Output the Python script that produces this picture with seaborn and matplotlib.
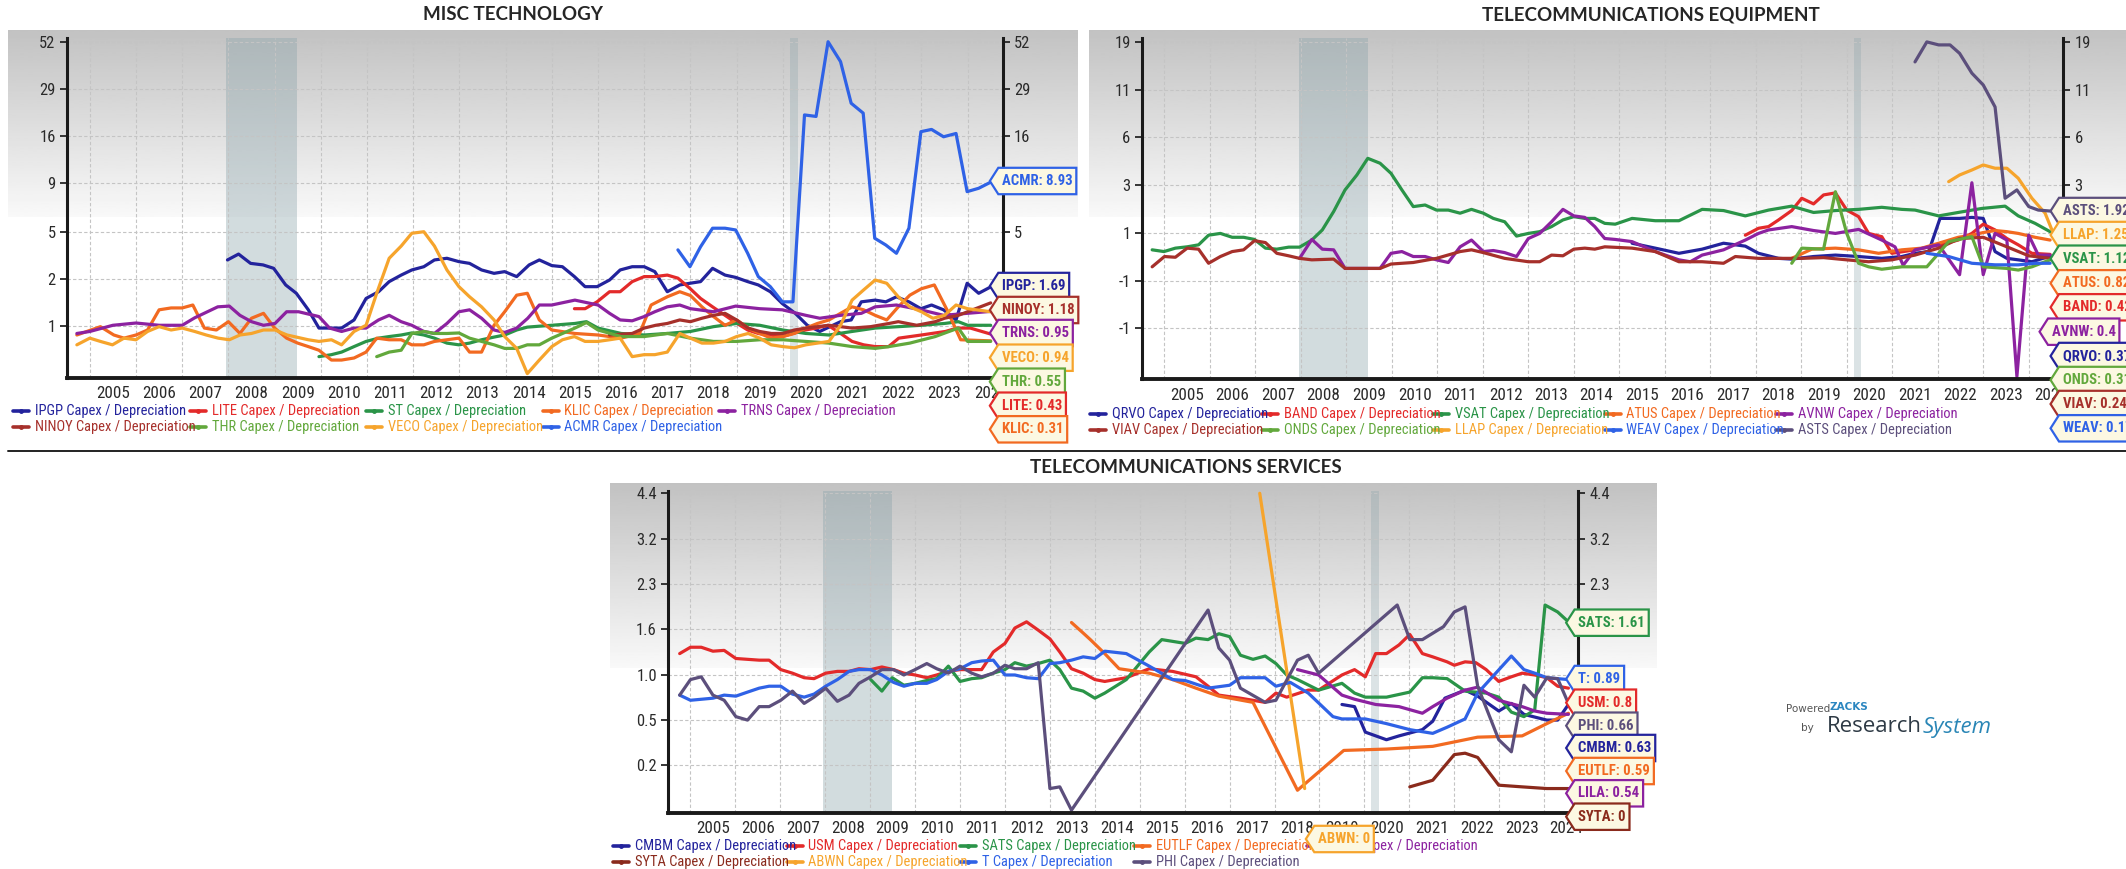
import numpy as np
import pandas as pd
import matplotlib
matplotlib.use("Agg")
import matplotlib.pyplot as plt
from matplotlib import font_manager as fm
from matplotlib.lines import Line2D
from matplotlib.path import Path
import seaborn as sns

W, H = 2126, 869
TITLE_FONT = ["Lato", "DejaVu Sans"]

year_labels = list(range(2005, 2025))
recessions = [(2007.95, 2009.48), (2020.15, 2020.32)]

# ---------------- MISC TECHNOLOGY (year, capex/depreciation) ----------------
ipgp = [(2007.98, 2.78), (2008.22, 3.07), (2008.48, 2.62), (2008.75, 2.55), (2008.98, 2.40), (2009.24, 1.75),
        (2009.47, 1.47), (2009.73, 0.99), (2009.96, 0.56), (2010.45, 0.56), (2010.72, 0.74), (2010.98, 1.31),
        (2011.25, 1.52), (2011.48, 1.87), (2011.74, 2.12), (2011.97, 2.33), (2012.23, 2.47), (2012.46, 2.78),
        (2012.73, 2.86), (2012.99, 2.70), (2013.22, 2.62), (2013.48, 2.33), (2013.75, 2.19), (2013.98, 2.26),
        (2014.24, 2.06), (2014.51, 2.55), (2014.73, 2.78), (2015.0, 2.52), (2015.23, 2.47), (2015.49, 2.06),
        (2015.72, 1.69), (2015.98, 1.69), (2016.25, 1.93), (2016.48, 2.33), (2016.74, 2.47), (2017.0, 2.47),
        (2017.23, 2.26), (2017.5, 1.52), (2017.77, 1.75), (2017.99, 1.81), (2018.22, 1.87), (2018.48, 2.40),
        (2018.75, 2.12), (2018.98, 2.03), (2019.24, 1.87), (2019.47, 1.75), (2019.73, 1.52), (2019.99, 1.16),
        (2020.27, 0.90), (2020.53, 0.62), (2020.8, 0.49), (2021.25, 0.70), (2021.48, 0.74), (2021.7, 1.21),
        (2022.0, 1.26), (2022.23, 1.21), (2022.46, 1.36), (2022.73, 1.21), (2022.99, 1.02), (2023.22, 1.12),
        (2023.48, 0.99), (2023.75, 0.74), (2023.99, 1.81), (2024.24, 1.47), (2024.51, 1.69)]
acmr = [(2017.73, 3.29), (2017.99, 2.47), (2018.22, 3.46), (2018.48, 4.62), (2018.75, 4.62), (2018.98, 4.5),
        (2019.24, 3.11), (2019.47, 2.06), (2019.73, 1.69), (2019.99, 1.21), (2020.22, 1.21), (2020.47, 21.4),
        (2020.72, 21.0), (2020.98, 53.1), (2021.25, 41.6), (2021.48, 24.8), (2021.74, 21.9), (2021.99, 3.96),
        (2022.23, 3.56), (2022.46, 3.11), (2022.73, 4.62), (2022.99, 17.3), (2023.22, 17.8), (2023.48, 16.2),
        (2023.75, 16.9), (2023.99, 7.82), (2024.24, 8.19), (2024.51, 8.93)]
trns = [(2004.72, 0.45), (2005.0, 0.49), (2005.5, 0.62), (2006.0, 0.67), (2006.5, 0.62), (2007.0, 0.62),
        (2007.27, 0.79), (2007.77, 1.07), (2008.02, 1.09), (2008.25, 0.85), (2008.5, 0.70), (2008.76, 0.62),
        (2009.01, 0.66), (2009.26, 0.94), (2009.52, 0.94), (2009.96, 0.82), (2010.19, 0.56), (2010.45, 0.49),
        (2010.72, 0.56), (2010.98, 0.56), (2011.25, 0.74), (2011.48, 0.85), (2011.74, 0.70), (2011.97, 0.62),
        (2012.23, 0.49), (2012.46, 0.45), (2012.73, 0.66), (2012.99, 0.94), (2013.22, 0.99), (2013.48, 0.78),
        (2013.75, 0.52), (2013.98, 0.47), (2014.24, 0.56), (2014.48, 0.78), (2014.73, 1.12), (2015.0, 1.12),
        (2015.5, 1.26), (2016.0, 1.12), (2016.25, 0.90), (2016.48, 0.74), (2016.74, 0.72), (2017.0, 0.82),
        (2017.23, 0.94), (2017.5, 1.07), (2017.77, 1.12), (2018.0, 1.02), (2018.5, 0.94), (2018.98, 1.09),
        (2019.5, 1.02), (2019.99, 0.99), (2020.5, 0.85), (2020.8, 0.78), (2021.25, 0.85), (2021.7, 0.90),
        (2022.0, 1.07), (2022.46, 1.12), (2022.99, 0.99), (2023.48, 0.85), (2023.99, 0.90), (2024.51, 0.95)]
klic = [(2004.72, 0.42), (2005.23, 0.59), (2005.52, 0.42), (2005.74, 0.36), (2006.0, 0.42), (2006.25, 0.52),
        (2006.5, 0.99), (2006.76, 1.04), (2007.0, 1.04), (2007.23, 1.12), (2007.48, 0.56), (2007.74, 0.52),
        (2008.0, 0.70), (2008.25, 0.45), (2008.5, 0.78), (2008.76, 0.90), (2009.0, 0.56), (2009.26, 0.36),
        (2009.5, 0.27), (2009.73, 0.21), (2009.96, 0.15), (2010.23, 0.0), (2010.45, 0.0), (2010.72, 0.03),
        (2010.98, 0.12), (2011.21, 0.36), (2011.48, 0.33), (2011.74, 0.33), (2011.97, 0.24), (2012.23, 0.24),
        (2012.46, 0.30), (2012.73, 0.33), (2012.99, 0.36), (2013.22, 0.12), (2013.48, 0.12), (2013.75, 0.62),
        (2013.98, 0.94), (2014.24, 1.41), (2014.47, 1.47), (2014.73, 0.74), (2015.0, 0.52), (2015.5, 0.45),
        (2016.0, 0.42), (2016.5, 0.36), (2016.9, 0.45), (2017.15, 1.12), (2017.5, 1.36), (2017.77, 1.52),
        (2018.0, 1.40), (2018.25, 1.07), (2018.5, 0.82), (2018.75, 0.62), (2019.0, 0.74), (2019.25, 0.56),
        (2019.5, 0.45), (2019.75, 0.36), (2020.0, 0.39), (2020.25, 0.45), (2020.5, 0.56), (2020.75, 0.66),
        (2021.0, 0.74), (2021.25, 0.90), (2021.5, 1.07), (2021.75, 0.99), (2022.0, 0.85), (2022.25, 0.74),
        (2022.5, 1.07), (2022.75, 1.41), (2023.0, 1.62), (2023.28, 1.75), (2023.55, 1.0), (2023.85, 0.33),
        (2024.5, 0.31)]
veco = [(2004.72, 0.24), (2005.0, 0.36), (2005.23, 0.30), (2005.49, 0.24), (2005.74, 0.36), (2006.0, 0.33),
        (2006.25, 0.49), (2006.5, 0.59), (2006.76, 0.52), (2007.0, 0.56), (2007.27, 0.49), (2007.52, 0.42),
        (2007.78, 0.36), (2008.02, 0.33), (2008.25, 0.42), (2008.5, 0.45), (2008.76, 0.52), (2009.01, 0.52),
        (2009.27, 0.42), (2009.73, 0.33), (2009.96, 0.30), (2010.23, 0.33), (2010.45, 0.24), (2010.72, 0.49),
        (2010.98, 0.62), (2011.21, 1.47), (2011.48, 2.86), (2011.74, 3.5), (2011.97, 4.28), (2012.23, 4.38),
        (2012.46, 3.5), (2012.73, 2.33), (2012.99, 1.69), (2013.22, 1.36), (2013.48, 1.07), (2013.75, 0.74),
        (2013.98, 0.39), (2014.24, 0.18), (2014.47, -0.18), (2014.73, 0.0), (2015.0, 0.21), (2015.23, 0.33),
        (2015.49, 0.39), (2015.72, 0.30), (2016.0, 0.30), (2016.25, 0.33), (2016.48, 0.36), (2016.74, 0.05),
        (2017.0, 0.08), (2017.23, 0.08), (2017.5, 0.12), (2017.77, 0.45), (2018.0, 0.36), (2018.25, 0.27),
        (2018.5, 0.27), (2018.75, 0.30), (2019.0, 0.39), (2019.25, 0.45), (2019.5, 0.36), (2019.75, 0.24),
        (2020.0, 0.21), (2020.25, 0.19), (2020.5, 0.24), (2020.75, 0.27), (2021.0, 0.30), (2021.25, 0.62),
        (2021.5, 1.26), (2021.75, 1.58), (2022.0, 1.93), (2022.25, 1.81), (2022.5, 1.36), (2022.75, 1.07),
        (2023.0, 0.94), (2023.25, 0.78), (2023.5, 0.85), (2023.75, 1.12), (2024.0, 1.02), (2024.5, 0.94)]
lite = [(2015.49, 1.02), (2015.72, 1.02), (2015.98, 1.21), (2016.25, 1.52), (2016.48, 1.52), (2016.74, 1.87),
        (2017.0, 2.06), (2017.23, 2.06), (2017.5, 2.12), (2017.73, 2.0), (2017.99, 1.63), (2018.22, 1.31),
        (2018.48, 1.07), (2018.75, 0.85), (2018.98, 0.68), (2019.24, 0.52), (2019.47, 0.45), (2019.73, 0.42),
        (2019.99, 0.39), (2020.22, 0.45), (2020.49, 0.52), (2020.72, 0.56), (2020.98, 0.62), (2021.25, 0.45),
        (2021.5, 0.30), (2021.75, 0.24), (2022.0, 0.21), (2022.29, 0.21), (2022.51, 0.36), (2023.0, 0.42),
        (2023.52, 0.49), (2023.77, 0.56), (2024.06, 0.56), (2024.53, 0.43)]
ninoy = [(2016.25, 0.42), (2016.74, 0.45), (2017.0, 0.56), (2017.25, 0.62), (2017.5, 0.66), (2017.77, 0.74),
         (2018.0, 0.70), (2018.25, 0.78), (2018.5, 0.85), (2018.75, 0.90), (2019.0, 0.74), (2019.25, 0.56),
         (2019.5, 0.49), (2019.75, 0.45), (2020.0, 0.45), (2020.25, 0.52), (2020.5, 0.56), (2020.75, 0.59),
         (2021.0, 0.62), (2021.5, 0.56), (2021.9, 0.59), (2022.3, 0.66), (2022.5, 0.70), (2022.9, 0.62),
         (2023.3, 0.70), (2023.5, 0.78), (2023.8, 0.85), (2024.0, 0.94), (2024.5, 1.18)]
st = [(2009.96, 0.05), (2010.23, 0.08), (2010.45, 0.12), (2010.72, 0.21), (2010.98, 0.30), (2011.25, 0.36),
      (2011.48, 0.39), (2011.74, 0.42), (2011.97, 0.46), (2012.23, 0.42), (2012.46, 0.36), (2012.73, 0.27),
      (2012.99, 0.24), (2013.22, 0.27), (2013.48, 0.33), (2013.75, 0.38), (2013.98, 0.42), (2014.24, 0.52),
      (2014.47, 0.58), (2014.73, 0.60), (2015.0, 0.62), (2015.5, 0.66), (2015.75, 0.70), (2016.0, 0.56),
      (2016.5, 0.45), (2017.0, 0.42), (2017.5, 0.45), (2018.0, 0.49), (2018.5, 0.59), (2019.0, 0.66),
      (2019.5, 0.62), (2020.0, 0.52), (2020.5, 0.45), (2021.0, 0.42), (2021.5, 0.49), (2022.0, 0.56),
      (2022.5, 0.59), (2023.0, 0.62), (2023.5, 0.66), (2023.8, 0.70), (2024.0, 0.62), (2024.5, 0.62)]
thr = [(2011.21, 0.05), (2011.48, 0.12), (2011.74, 0.15), (2011.97, 0.45), (2012.23, 0.49), (2012.46, 0.45),
       (2012.73, 0.45), (2012.99, 0.46), (2013.22, 0.36), (2013.48, 0.30), (2013.75, 0.24), (2013.98, 0.18),
       (2014.24, 0.18), (2014.47, 0.24), (2014.73, 0.24), (2015.0, 0.36), (2015.5, 0.56), (2015.75, 0.68),
       (2016.0, 0.52), (2016.5, 0.39), (2017.0, 0.39), (2017.5, 0.45), (2018.0, 0.36), (2018.5, 0.30),
       (2019.0, 0.30), (2019.5, 0.33), (2020.0, 0.33), (2020.5, 0.30), (2021.0, 0.27), (2021.5, 0.21),
       (2022.0, 0.18), (2022.3, 0.21), (2022.75, 0.27), (2023.3, 0.39), (2023.8, 0.56), (2024.0, 0.30),
       (2024.5, 0.30)]

# ---------------- TELECOMMUNICATIONS EQUIPMENT ----------------
vsat = [(2004.73, 0.55), (2004.99, 0.50), (2005.24, 0.60), (2005.5, 0.64), (2005.75, 0.70), (2005.97, 1.01),
        (2006.23, 1.07), (2006.49, 0.94), (2006.74, 0.94), (2006.98, 0.87), (2007.22, 0.60), (2007.47, 0.57),
        (2007.73, 0.63), (2007.97, 0.63), (2008.24, 0.85), (2008.47, 1.19), (2008.72, 1.90), (2008.97, 2.90),
        (2009.23, 3.72), (2009.47, 4.78), (2009.74, 4.45), (2009.98, 3.82), (2010.22, 2.90), (2010.47, 2.11),
        (2010.73, 2.18), (2010.98, 1.96), (2011.24, 1.96), (2011.5, 1.83), (2011.75, 1.99), (2012.01, 1.83),
        (2012.23, 1.62), (2012.48, 1.49), (2012.74, 0.98), (2013.0, 1.07), (2013.25, 1.13), (2013.51, 1.31),
        (2013.76, 1.56), (2014.0, 1.69), (2014.24, 1.62), (2014.46, 1.62), (2014.68, 1.43), (2014.91, 1.40),
        (2015.28, 1.62), (2015.79, 1.53), (2016.31, 1.53), (2016.82, 1.99), (2017.29, 1.94), (2017.77, 1.72),
        (2018.28, 1.96), (2018.79, 2.13), (2019.27, 1.86), (2019.75, 1.94), (2020.26, 1.99), (2020.77, 2.08),
        (2021.21, 1.99), (2021.5, 1.96), (2022.02, 1.72), (2022.45, 1.86), (2022.97, 2.03), (2023.48, 2.13),
        (2023.77, 1.72), (2024.14, 1.43), (2024.47, 1.13)]
band = [(2017.77, 1.01), (2018.06, 1.25), (2018.28, 1.31), (2018.5, 1.56), (2018.79, 1.94), (2019.01, 2.49),
        (2019.27, 2.23), (2019.49, 2.65), (2019.75, 2.75), (2020.0, 1.96), (2020.26, 1.69), (2020.48, 1.07),
        (2020.77, 0.96), (2020.99, 0.45), (2021.5, 0.55), (2022.02, 0.70), (2022.45, 0.85), (2022.75, 1.07),
        (2023.0, 1.40), (2023.26, 1.19), (2023.52, 0.90), (2023.77, 0.70), (2024.07, 0.45), (2024.47, 0.42)]
atus = [(2018.79, 0.31), (2019.23, 0.57), (2019.75, 0.60), (2020.26, 0.55), (2020.7, 0.45), (2021.21, 0.55),
        (2021.65, 0.60), (2022.02, 0.75), (2022.45, 0.94), (2022.75, 1.01), (2023.0, 1.10), (2023.26, 1.17),
        (2023.52, 1.13), (2023.77, 1.07), (2024.14, 0.94), (2024.47, 0.85)]
avnw = [(2007.97, 0.31), (2008.24, 0.87), (2008.47, 0.57), (2008.72, 0.55), (2008.97, 0.05), (2009.74, 0.05),
        (2009.98, 0.45), (2010.22, 0.50), (2010.47, 0.36), (2010.73, 0.36), (2010.98, 0.27), (2011.24, 0.20),
        (2011.5, 0.64), (2011.75, 0.85), (2012.01, 0.50), (2012.23, 0.53), (2012.48, 0.47), (2012.74, 0.36),
        (2013.0, 0.90), (2013.25, 1.07), (2013.51, 1.49), (2013.76, 1.99), (2014.0, 1.72), (2014.24, 1.66),
        (2014.46, 1.31), (2014.68, 0.90), (2014.91, 0.87), (2015.28, 0.80), (2015.79, 0.50), (2016.31, 0.27),
        (2016.56, 0.22), (2016.82, 0.40), (2017.29, 0.55), (2017.77, 0.85), (2018.06, 1.07), (2018.28, 1.19),
        (2018.79, 1.31), (2019.27, 1.17), (2019.75, 1.07), (2020.26, 1.21), (2020.77, 0.85), (2021.06, 0.64),
        (2021.24, 0.13), (2021.5, 0.55), (2022.02, 0.70), (2022.48, -0.10), (2022.75, 3.28), (2023.0, -0.10),
        (2023.26, 1.07), (2023.52, 0.85), (2023.74, -1.63), (2024.0, 1.01), (2024.21, 0.40), (2024.47, 0.40)]
qrvo = [(2015.28, 0.75), (2015.79, 0.60), (2016.31, 0.45), (2016.82, 0.57), (2017.29, 0.75), (2017.77, 0.66),
        (2018.06, 0.45), (2018.5, 0.31), (2018.79, 0.29), (2019.27, 0.36), (2019.75, 0.40), (2020.26, 0.36),
        (2020.77, 0.31), (2021.21, 0.36), (2021.5, 0.45), (2021.8, 0.50), (2022.05, 1.62), (2022.48, 1.62),
        (2022.75, 1.66), (2023.0, 1.62), (2023.26, 0.50), (2023.52, 0.31), (2023.77, 0.27), (2024.07, 0.22),
        (2024.47, 0.37)]
onds = [(2018.79, 0.18), (2019.01, 0.60), (2019.49, 0.57), (2019.75, 2.81), (2020.0, 1.07), (2020.26, 0.18),
        (2020.48, 0.09), (2020.77, 0.03), (2021.21, 0.09), (2021.76, 0.09), (2022.02, 0.45), (2022.24, 0.80),
        (2022.75, 0.96), (2023.0, 0.09), (2023.52, 0.05), (2023.77, 0.01), (2024.07, 0.09), (2024.47, 0.27)]
llap = [(2022.24, 3.34), (2022.48, 3.72), (2022.75, 4.02), (2023.0, 4.34), (2023.26, 4.13), (2023.52, 4.13),
        (2023.77, 3.53), (2024.07, 2.49), (2024.36, 1.83), (2024.51, 1.19)]
asts = [(2021.5, 15.5), (2021.76, 19.2), (2022.02, 18.6), (2022.27, 18.6), (2022.48, 17.0), (2022.75, 13.7),
        (2023.0, 12.0), (2023.26, 9.3), (2023.48, 2.49), (2023.74, 2.9), (2024.0, 2.11), (2024.21, 1.96),
        (2024.47, 1.92)]
weav = [(2021.76, 0.45), (2022.24, 0.36), (2022.75, 0.18), (2023.26, 0.14), (2023.77, 0.14), (2024.14, 0.18),
        (2024.47, 0.18)]
viav = [(2004.73, 0.09), (2005.0, 0.36), (2005.24, 0.34), (2005.5, 0.60), (2005.75, 0.57), (2005.97, 0.18),
        (2006.23, 0.36), (2006.49, 0.50), (2006.74, 0.55), (2006.98, 0.83), (2007.22, 0.77), (2007.47, 0.45),
        (2007.73, 0.38), (2007.97, 0.31), (2008.24, 0.27), (2008.72, 0.29), (2008.97, 0.05), (2009.74, 0.05),
        (2009.98, 0.16), (2010.47, 0.20), (2010.98, 0.31), (2011.5, 0.50), (2011.75, 0.55), (2012.01, 0.47),
        (2012.48, 0.31), (2013.0, 0.22), (2013.25, 0.22), (2013.51, 0.40), (2013.76, 0.38), (2014.0, 0.57),
        (2014.24, 0.60), (2014.46, 0.57), (2014.68, 0.64), (2015.28, 0.60), (2015.79, 0.50), (2016.31, 0.22),
        (2016.82, 0.22), (2017.29, 0.18), (2017.55, 0.36), (2018.06, 0.31), (2018.5, 0.31), (2019.01, 0.31),
        (2019.49, 0.33), (2020.0, 0.27), (2020.48, 0.22), (2020.99, 0.27), (2021.5, 0.40), (2022.02, 0.60),
        (2022.48, 0.90), (2023.0, 0.94), (2023.52, 0.64), (2024.0, 0.38), (2024.47, 0.31)]

# ---------------- TELECOMMUNICATIONS SERVICES ----------------
usm = [(2004.76, 1.25), (2005.0, 1.33), (2005.24, 1.33), (2005.5, 1.28), (2005.75, 1.29), (2006.01, 1.19),
       (2006.27, 1.18), (2006.53, 1.17), (2006.75, 1.17), (2007.01, 1.06), (2007.27, 1.02), (2007.53, 0.97),
       (2007.75, 0.96), (2008.01, 1.02), (2008.27, 1.04), (2008.53, 1.04), (2008.75, 1.07), (2009.01, 1.06),
       (2009.26, 1.09), (2009.52, 1.06), (2009.75, 1.02), (2010.0, 1.0), (2010.26, 0.97), (2010.48, 1.0),
       (2010.74, 1.04), (2011.0, 1.06), (2011.26, 1.06), (2011.48, 1.06), (2011.74, 1.27), (2012.0, 1.38),
       (2012.22, 1.59), (2012.48, 1.68), (2012.74, 1.56), (2013.0, 1.44), (2013.22, 1.27), (2013.48, 1.07),
       (2013.74, 1.02), (2014.0, 0.95), (2014.22, 0.93), (2014.7, 0.97), (2015.21, 1.07), (2015.73, 1.04),
       (2016.25, 0.98), (2016.52, 0.88), (2016.76, 0.79), (2017.24, 0.76), (2017.79, 0.72), (2018.03, 0.81),
       (2018.27, 0.77), (2018.75, 0.84), (2018.98, 0.84), (2019.5, 1.0), (2019.78, 1.06), (2020.02, 0.98),
       (2020.25, 1.25), (2020.49, 1.25), (2020.77, 1.36), (2021.01, 1.5), (2021.29, 1.25), (2021.52, 1.21),
       (2021.84, 1.15), (2022.0, 1.11), (2022.24, 1.15), (2022.48, 1.14), (2022.71, 1.06), (2022.99, 0.93),
       (2023.27, 0.98), (2023.51, 1.02), (2023.79, 1.0), (2024.06, 0.97), (2024.3, 0.88), (2024.54, 0.86)]
t_att = [(2004.76, 0.79), (2005.0, 0.74), (2005.5, 0.76), (2005.75, 0.79), (2006.01, 0.78), (2006.27, 0.82),
         (2006.53, 0.86), (2006.75, 0.88), (2007.01, 0.88), (2007.27, 0.80), (2007.53, 0.77), (2007.75, 0.80),
         (2008.01, 0.88), (2008.27, 0.95), (2008.53, 1.04), (2008.75, 1.06), (2009.01, 1.06), (2009.26, 1.0),
         (2009.52, 0.92), (2009.75, 0.88), (2010.0, 0.91), (2010.26, 0.91), (2010.48, 0.95), (2010.74, 1.04),
         (2011.0, 1.07), (2011.26, 1.14), (2011.48, 1.16), (2011.74, 1.17), (2012.0, 1.0), (2012.22, 1.0),
         (2012.48, 0.97), (2012.74, 0.96), (2013.0, 1.13), (2013.22, 1.14), (2013.48, 1.17), (2013.74, 1.21),
         (2014.0, 1.19), (2014.22, 1.28), (2014.7, 1.25), (2015.21, 1.10), (2015.73, 0.95), (2016.01, 0.94),
         (2016.52, 0.86), (2017.0, 0.89), (2017.24, 0.97), (2017.79, 0.97), (2018.03, 0.88), (2018.35, 0.92),
         (2018.75, 0.81), (2019.3, 0.59), (2019.5, 0.57), (2020.02, 0.57), (2020.49, 0.53), (2021.01, 0.48),
         (2021.52, 0.45), (2021.84, 0.50), (2022.24, 0.57), (2022.52, 0.81), (2023.27, 1.22), (2023.55, 1.06),
         (2023.79, 1.02), (2024.06, 0.97), (2024.3, 0.96), (2024.54, 0.95)]
sats = [(2009.01, 0.95), (2009.26, 0.83), (2009.49, 0.97), (2009.75, 0.89), (2010.0, 0.91), (2010.26, 0.94),
        (2010.48, 0.96), (2010.74, 1.10), (2011.0, 0.93), (2011.26, 0.96), (2011.48, 0.97), (2011.74, 1.02),
        (2012.0, 1.06), (2012.22, 1.14), (2012.48, 1.10), (2012.74, 1.13), (2013.0, 1.17), (2013.22, 1.06),
        (2013.48, 0.86), (2013.74, 0.83), (2014.0, 0.76), (2014.22, 0.81), (2014.7, 0.95), (2015.21, 1.27),
        (2015.49, 1.43), (2016.01, 1.38), (2016.25, 1.45), (2016.52, 1.43), (2016.76, 1.51), (2017.0, 1.47),
        (2017.24, 1.23), (2017.52, 1.18), (2017.79, 1.22), (2018.03, 1.13), (2018.27, 1.0), (2018.51, 0.95),
        (2018.98, 0.84), (2019.5, 0.91), (2019.78, 0.81), (2020.02, 0.77), (2020.49, 0.77), (2021.01, 0.82),
        (2021.29, 0.97), (2021.52, 0.97), (2021.84, 0.96), (2022.24, 0.83), (2022.71, 0.81), (2022.99, 0.77),
        (2023.27, 0.63), (2023.55, 0.59), (2023.79, 0.65), (2024.02, 1.94), (2024.3, 1.83), (2024.54, 1.68)]
syta = [(2021.01, 0.08), (2021.52, 0.12), (2022.0, 0.29), (2022.24, 0.30), (2022.52, 0.27), (2022.99, 0.09),
        (2023.51, 0.08), (2024.06, 0.07), (2024.54, 0.07)]
lila = [(2018.51, 1.06), (2018.98, 1.0), (2019.5, 0.79), (2019.78, 0.75), (2020.25, 0.70), (2020.77, 0.68),
        (2021.29, 0.62), (2021.52, 0.68), (2021.84, 0.76), (2022.24, 0.84), (2022.52, 0.87), (2022.99, 0.74),
        (2023.51, 0.68), (2023.79, 0.64), (2024.06, 0.62), (2024.54, 0.61)]
cmbm = [(2019.5, 0.70), (2019.78, 0.68), (2020.02, 0.46), (2020.49, 0.40), (2020.77, 0.43), (2021.29, 0.48),
        (2021.52, 0.55), (2021.79, 0.76), (2022.24, 0.84), (2022.52, 0.78), (2022.99, 0.64), (2023.27, 0.71),
        (2023.55, 0.61), (2024.06, 0.56), (2024.3, 0.56), (2024.54, 0.70)]
eutlf = [(2013.48, 1.67), (2013.74, 1.52), (2013.9, 1.43), (2014.22, 1.25), (2014.54, 1.07), (2015.21, 1.02),
         (2015.73, 0.95), (2016.25, 0.86), (2016.76, 0.78), (2017.52, 0.72), (2018.51, 0.06), (2019.54, 0.32),
         (2020.49, 0.33), (2021.52, 0.35), (2022.52, 0.42), (2023.51, 0.43), (2024.06, 0.53), (2024.54, 0.62)]
abwn = [(2017.67, 4.44), (2018.67, 0.07)]
phi = [(2004.76, 0.79), (2005.0, 0.95), (2005.24, 0.98), (2005.5, 0.79), (2005.75, 0.74), (2006.01, 0.59),
       (2006.27, 0.56), (2006.53, 0.68), (2006.75, 0.68), (2007.01, 0.74), (2007.27, 0.83), (2007.53, 0.71),
       (2007.75, 0.77), (2008.01, 0.86), (2008.27, 0.73), (2008.53, 0.79), (2008.75, 0.91), (2009.01, 0.98),
       (2009.26, 1.06), (2009.52, 1.06), (2009.75, 1.0), (2010.0, 1.06), (2010.26, 1.13), (2010.48, 1.07),
       (2010.74, 1.02), (2011.0, 1.10), (2011.26, 1.02), (2011.48, 0.98), (2011.74, 1.02), (2012.0, 1.11),
       (2012.22, 1.07), (2012.48, 1.07), (2012.74, 1.14), (2013.0, 0.07), (2013.22, 0.08), (2013.48, -0.05),
       (2016.52, 1.86), (2016.76, 1.32), (2017.0, 1.17), (2017.24, 0.86), (2017.79, 0.72), (2018.03, 0.74),
       (2018.51, 1.17), (2018.75, 1.23), (2018.98, 1.02), (2020.73, 1.94), (2021.01, 1.43), (2021.29, 1.43),
       (2021.76, 1.61), (2022.0, 1.83), (2022.24, 1.91), (2022.52, 0.88), (2022.99, 0.40), (2023.27, 0.31),
       (2023.55, 0.89), (2023.79, 0.77), (2024.06, 0.97), (2024.3, 0.96), (2024.54, 0.71)]

# colours
NAVY, RED, GREEN, ORANGE, PURPLE = "#23239c", "#e32a2a", "#2a9448", "#f26a21", "#8c22a0"
BROWN, LGREEN, GOLD, BLUE, SLATE = "#a6302b", "#62a83c", "#f6a42c", "#2f62e6", "#5c4f7c"

misc_series = [("IPGP", ipgp, NAVY), ("LITE", lite, RED), ("ST", st, GREEN), ("KLIC", klic, ORANGE),
               ("TRNS", trns, PURPLE), ("NINOY", ninoy, BROWN), ("THR", thr, LGREEN), ("VECO", veco, GOLD),
               ("ACMR", acmr, BLUE)]
equip_series = [("QRVO", qrvo, NAVY), ("BAND", band, RED), ("VSAT", vsat, GREEN), ("ATUS", atus, ORANGE),
                ("AVNW", avnw, PURPLE), ("VIAV", viav, BROWN), ("ONDS", onds, LGREEN), ("LLAP", llap, GOLD),
                ("WEAV", weav, BLUE), ("ASTS", asts, SLATE)]
serv_series = [("CMBM", cmbm, NAVY), ("USM", usm, RED), ("SATS", sats, GREEN), ("EUTLF", eutlf, ORANGE),
               ("LILA", lila, PURPLE), ("SYTA", syta, "#8a2a1c"), ("ABWN", abwn, GOLD), ("T", t_att, BLUE),
               ("PHI", phi, SLATE)]

misc_ticks = ["1", "2", "5", "9", "16", "29", "52"]
equip_ticks = ["-1", "-1", "1", "3", "6", "11", "19"]
serv_ticks = ["0.2", "0.5", "1.0", "1.6", "2.3", "3.2", "4.4"]

misc_tag_names = ["ACMR", "IPGP", "NINOY", "TRNS", "VECO", "THR", "LITE", "KLIC"]
misc_tag_values = [8.93, 1.69, 1.18, 0.95, 0.94, 0.55, 0.43, 0.31]
equip_tag_names = ["ASTS", "LLAP", "VSAT", "ATUS", "BAND", "AVNW", "QRVO", "ONDS", "VIAV", "WEAV"]
equip_tag_values = [1.92, 1.25, 1.12, 0.82, 0.42, 0.4, 0.37, 0.31, 0.24, 0.17]
serv_tag_names = ["SATS", "T", "USM", "PHI", "CMBM", "EUTLF", "LILA", "SYTA"]
serv_tag_values = [1.61, 0.89, 0.8, 0.66, 0.63, 0.59, 0.54, 0]


def pick_narrow_font():
    """Zacks charts use a condensed face; take the narrowest one installed."""
    entries = fm.fontManager.ttflist
    names = {f.name for f in entries}
    if "Liberation Sans Narrow" in names:
        return ["Liberation Sans Narrow", "DejaVu Sans"], "normal", 1.0
    if "Roboto Condensed" in names:
        return ["Roboto Condensed", "DejaVu Sans"], "normal", 0.95
    if any(f.name == "DejaVu Sans" and f.stretch == "condensed" for f in entries):
        return ["DejaVu Sans", "Liberation Sans"], "condensed", 0.82
    if "Liberation Sans" in names:
        return ["Liberation Sans", "DejaVu Sans"], "normal", 0.84
    return ["DejaVu Sans"], "normal", 0.74


NARROW, STRETCH, FSCALE = pick_narrow_font()


def fx(x):
    return x / W


def fy(y):
    return 1 - y / H


def func_scale(c):
    def fwd(v):
        return np.log(np.clip(np.asarray(v, dtype=float) + c, 1e-4, None))

    def inv(t):
        return np.exp(t) - c
    return fwd, inv


def tag_box(x0, y0, width, height, mutation_size):
    padx, pady = 0.25 * mutation_size, 0.42 * mutation_size
    x0, y0 = x0 - padx, y0 - pady
    width, height = width + 2 * padx, height + 2 * pady
    tip = 0.32 * height
    return Path([(x0 - tip, y0 + height / 2), (x0, y0 + height), (x0 + width, y0 + height),
                 (x0 + width, y0), (x0, y0), (x0 - tip, y0 + height / 2)], closed=True)


def add_panel(fig, box):
    x0, y0, x1, y1 = box
    bg = fig.add_axes([fx(x0), fy(y1), (x1 - x0) / W, (y1 - y0) / H], zorder=-5)
    grad = np.linspace(0.76, 0.975, 120)[:, None]
    bg.imshow(grad, aspect="auto", cmap="gray", vmin=0, vmax=1, extent=(0, 1, 0, 1))
    bg.set_axis_off()


def draw_chart(fig, rect, series, c, t_ticks, t_lim, tick_labels):
    x0, y0, x1, y1 = rect
    ax = fig.add_axes([fx(x0), fy(y1), (x1 - x0) / W, (y1 - y0) / H])
    ax.set_facecolor("none")
    frame = pd.concat([pd.DataFrame(pts, columns=["year", "value"]).assign(ticker=name)
                       for name, pts, _ in series], ignore_index=True)
    palette = {name: col for name, _, col in series}
    sns.lineplot(data=frame, x="year", y="value", hue="ticker", palette=palette,
                 estimator=None, sort=False, linewidth=2.3, legend=False, ax=ax)
    fwd, inv = func_scale(c)
    ax.set_yscale("function", functions=(fwd, inv))
    ax.set_ylim(inv(t_lim[0]), inv(t_lim[1]))
    ax.set_yticks(inv(np.array(t_ticks)))
    ax.set_yticklabels(tick_labels)
    ax.yaxis.set_minor_locator(matplotlib.ticker.NullLocator())
    ax.set_xlim(2004.5, 2024.76)
    ax.set_xticks([y + 0.5 for y in year_labels])
    ax.set_xticklabels([str(y) for y in year_labels])
    ax.set_xticks(year_labels, minor=True)
    ax.set_xlabel("")
    ax.set_ylabel("")
    for a, b in recessions:
        ax.axvspan(a, b, color="#8aa3aa", alpha=0.38 if b - a > 1 else 0.3, lw=0, zorder=0.5)
    ax.set_axisbelow(True)
    ax.grid(False)
    ax.grid(axis="y", which="major", ls=(0, (3, 2)), color="#c4c4c4", lw=0.8)
    ax.grid(axis="x", which="minor", ls=(0, (3, 2)), color="#c4c4c4", lw=0.8)
    for side in ("left", "right"):
        ax.spines[side].set_visible(True)
        ax.spines[side].set_linewidth(2.2)
        ax.spines[side].set_color("#1a1a1a")
    ax.spines["bottom"].set_linewidth(2.8)
    ax.spines["bottom"].set_color("#1a1a1a")
    ax.spines["top"].set_visible(False)
    ax.tick_params(axis="y", which="major", left=True, right=True, labelleft=True, labelright=True,
                   direction="out", length=5, width=1.3, labelsize=12.5 * FSCALE, labelcolor="#2a2a2a", pad=3)
    ax.tick_params(axis="x", which="both", length=0, labelsize=13 * FSCALE, labelcolor="#2a2a2a", pad=6)
    for lab in ax.get_xticklabels() + ax.get_yticklabels():
        lab.set_fontstretch(STRETCH)
    return ax


def draw_tags(fig, names, values, colors, tip_x, ys, shifts=None):
    for name, val, y in zip(names, values, ys):
        col = colors[name]
        x = tip_x - (shifts or {}).get(name, 0)
        fig.text(fx(x + 10), fy(y), f"{name}: {val:g}", ha="left", va="center", fontsize=11.2 * FSCALE,
                 fontweight="bold", color=col, family=NARROW, fontstretch=STRETCH, zorder=10,
                 bbox=dict(boxstyle=tag_box, fc="#fcf8e2", ec=col, lw=1.6))


def draw_legend(fig, rows, colors, x0, step, ys):
    for row, y in zip(rows, ys):
        for i, name in enumerate(row):
            x = x0 + i * step
            col = colors[name]
            fig.add_artist(Line2D([fx(x), fx(x + 16)], [fy(y), fy(y)], color=col, lw=2.6))
            fig.add_artist(Line2D([fx(x + 8)], [fy(y)], color=col, marker="o", markersize=2.5))
            fig.text(fx(x + 22), fy(y), f"{name} Capex / Depreciation", ha="left", va="center",
                     fontsize=11 * FSCALE, color=col, family=NARROW, fontstretch=STRETCH)


sns.set_style("white")
plt.rcParams["font.family"] = NARROW

fig = plt.figure(figsize=(W / 100, H / 100), dpi=100)
fig.patch.set_facecolor("white")

add_panel(fig, (8, 30, 1078, 217))
add_panel(fig, (1089, 30, 2126, 217))
add_panel(fig, (610, 483, 1657, 668))

draw_chart(fig, (66.7, 37.7, 1002.7, 377.7), misc_series, 1.2,
           [0.590, 1.150, 1.720, 2.299, 2.866, 3.425, 3.995], (-0.029, 4.043), misc_ticks)
draw_chart(fig, (1141.7, 37.7, 2063.3, 379.3), equip_series, 2.6,
           [0.418, 0.858, 1.301, 1.751, 2.200, 2.634, 3.084], (-0.057, 3.121), equip_ticks)
draw_chart(fig, (668, 490.7, 1578.3, 813), serv_series, 1.0,
           [0.198, 0.445, 0.693, 0.945, 1.194, 1.441, 1.697], (-0.067, 1.708), serv_ticks)

misc_colors = {n: c for n, _, c in misc_series}
equip_colors = {n: c for n, _, c in equip_series}
serv_colors = {n: c for n, _, c in serv_series}

draw_tags(fig, misc_tag_names, misc_tag_values, misc_colors, 992,
          [181, 286, 310, 333, 357.7, 381.7, 405.7, 429.3])
draw_tags(fig, equip_tag_names, equip_tag_values, equip_colors, 2052.7,
          [211, 235, 258.7, 283.3, 307.3, 331.7, 356, 380, 404, 428.3], shifts={"AVNW": 11})
draw_tags(fig, serv_tag_names, serv_tag_values, serv_colors, 1568.3,
          [622.7, 679, 702.7, 725.7, 748, 771, 793.3, 816.7])

draw_legend(fig, [["IPGP", "LITE", "ST", "KLIC", "TRNS"], ["NINOY", "THR", "VECO", "ACMR"]],
            misc_colors, 13, 176.5, [411, 427])
draw_legend(fig, [["QRVO", "BAND", "VSAT", "ATUS", "AVNW"], ["VIAV", "ONDS", "LLAP", "WEAV", "ASTS"]],
            equip_colors, 1090, 171.5, [414, 430])
draw_legend(fig, [["CMBM", "USM", "SATS", "EUTLF", "LILA"], ["SYTA", "ABWN", "T", "PHI"]],
            serv_colors, 613, 173.5, [846, 862])
draw_tags(fig, ["ABWN"], [0], serv_colors, 1308, [839])

for cx, cy, title in [(513, 15, "MISC TECHNOLOGY"), (1651, 15, "TELECOMMUNICATIONS EQUIPMENT"),
                      (1186, 468, "TELECOMMUNICATIONS SERVICES")]:
    fig.text(fx(cx), fy(cy), title, ha="center", va="center", fontsize=13.5,
             fontweight="bold", family=TITLE_FONT)
fig.add_artist(Line2D([fx(8), 1], [fy(451), fy(451)], color="#222222", lw=1.4))

# logo
fig.text(fx(1786), fy(709), "Powered", fontsize=7.5, color="#555555", va="center", family=["DejaVu Sans"])
fig.text(fx(1830), fy(707), "ZACKS", fontsize=7.5, color="#2b86c0", fontweight="bold", va="center",
         family=["DejaVu Sans"])
fig.text(fx(1801), fy(728), "by", fontsize=7.5, color="#555555", va="center", family=["DejaVu Sans"])
research = fig.text(fx(1827), fy(727), "Research", fontsize=16, color="#2e3a45", va="center",
                    family=["Open Sans", "DejaVu Sans"])
renderer = fig.canvas.get_renderer()
right_px = research.get_window_extent(renderer).x1
fig.text(right_px / W + 0.0005, fy(727), "System", fontsize=16, color="#2a86b6", va="center", style="italic",
         family=["Open Sans", "DejaVu Sans"])

fig.savefig("out.png", dpi=100, facecolor="white")
